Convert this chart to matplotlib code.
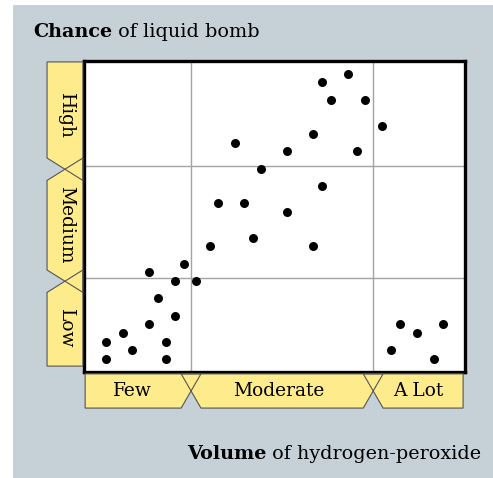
import matplotlib
matplotlib.use('Agg')
import matplotlib.pyplot as plt
from matplotlib.patches import Polygon, Rectangle
from matplotlib.transforms import blended_transform_factory

# ---- data ----
volume = [5.7, 5.7, 10.2, 12.5, 17.1, 17.1, 19.3, 21.6, 21.6, 23.9, 23.9, 26.2,
          29.3, 33.0, 35.3, 39.7, 42.0, 44.3, 46.5, 53.4, 53.4, 60.2, 60.2, 62.5,
          62.5, 64.7, 69.3, 71.6, 73.8, 78.3, 80.6, 82.9, 87.4, 91.9, 94.2]
chance = [4.2, 9.7, 12.5, 7.1, 15.3, 32.1, 23.7, 9.7, 4.2, 18.1, 29.3, 34.8,
          29.3, 40.4, 54.2, 73.7, 54.2, 43.2, 65.4, 71.0, 51.4, 76.5, 40.4, 93.1,
          59.8, 87.6, 95.9, 71.0, 87.6, 79.2, 7.1, 15.3, 12.5, 4.2, 15.3]

x_categories = ['Few', 'Moderate', 'A Lot']
x_edges = [0, 28.1, 75.9, 100]
y_categories = ['Low', 'Medium', 'High']
y_edges = [0, 30.2, 66.2, 100]

BG = '#c5d0d7'
TAB = '#fdeb8c'
TAB_EDGE = '#555555'
SERIF = 'DejaVu Serif'
FS_TAB = 13.4
FS_TITLE = 13.8

W, H = 493, 478
fig = plt.figure(figsize=(W / 100, H / 100), dpi=100)
fig.patch.set_facecolor('white')
fig.add_artist(Rectangle((13 / W, 0), 1 - 13 / W, 1 - 5 / H, transform=fig.transFigure,
                         facecolor=BG, edgecolor='none', zorder=-10))

ax = fig.add_axes([84 / W, (H - 372) / H, 381 / W, 311 / H])
ax.set_xlim(0, 100)
ax.set_ylim(0, 100)
ax.set_facecolor('white')
ax.set_xticks(x_edges[1:-1])
ax.set_yticks(y_edges[1:-1])
ax.tick_params(length=0, labelbottom=False, labelleft=False)
ax.grid(True, color='#a3a3a3', linewidth=1.0)
ax.set_axisbelow(True)
for sp in ax.spines.values():
    sp.set_linewidth(2.4)
    sp.set_color('black')

ax.scatter(volume, chance, s=42, color='black', zorder=3, linewidths=0)


def add_tab(pts, trans):
    # fill first, outline on top so that crossing edges stay visible
    ax.add_patch(Polygon(pts, closed=True, transform=trans, facecolor=TAB,
                         edgecolor='none', clip_on=False, zorder=5))
    ax.add_patch(Polygon(pts, closed=True, transform=trans, facecolor='none',
                         edgecolor=TAB_EDGE, linewidth=0.8, clip_on=False, zorder=5.5))


# ---- bottom category tabs (trapezoids whose slanted edges cross) ----
tb = blended_transform_factory(ax.transData, ax.transAxes)
top, bot = -0.006, -0.116
mid = (top + bot) / 2
d = 2.6
n = len(x_categories)
for i, lab in enumerate(x_categories):
    a, b = x_edges[i], x_edges[i + 1]
    if i == 0:
        a = a + 0.3
    if i == n - 1:
        b = b - 0.5
    if i == 0:
        left = [(a, bot), (a, top)]
    else:
        left = [(a + d, bot), (a - d, top)]
    if i == n - 1:
        right = [(b, top), (b, bot)]
    else:
        right = [(b + d, top), (b - d, bot)]
    add_tab(left + right, tb)
    cx = (a + b) / 2 - (1.5 if i == 0 else 1.0 if i == 1 else 0)
    ax.text(cx, mid, lab, transform=tb, ha='center', va='center',
            family=SERIF, fontsize=FS_TAB, zorder=6, clip_on=False)

# ---- left category tabs ----
tl = blended_transform_factory(ax.transAxes, ax.transData)
xl, xr = -0.097, -0.003
xm = (xl + xr) / 2
dy = 3.6
m = len(y_categories)
for j, lab in enumerate(y_categories):
    a, b = y_edges[j], y_edges[j + 1]
    if j > 0:
        a = a - 1.0
    if j == 0:
        a = a + 1.9
    if j == m - 1:
        b = b - 0.3
    else:
        b = b - 1.0
    if j == 0:
        lower = [(xl, a), (xr, a)]
    else:
        lower = [(xl, a + dy), (xr, a - dy)]
    if j == m - 1:
        upper = [(xr, b), (xl, b)]
    else:
        upper = [(xr, b + dy), (xl, b - dy)]
    add_tab(lower + upper, tl)
    cy = (a + b) / 2 - (1.5 if j == 0 else 0)
    ax.text(xm + 0.004, cy, lab, transform=tl, ha='center', va='center',
            rotation=-90, family=SERIF, fontsize=FS_TAB, zorder=6, clip_on=False)

# ---- titles ----
t1 = fig.text(33 / W, 1 - 37 / H, 'Chance', family=SERIF, fontsize=FS_TITLE,
              fontweight='bold', va='baseline', ha='left')
ax.annotate(' of liquid bomb', xy=(1, 0), xycoords=t1, va='bottom', ha='left',
            family=SERIF, fontsize=FS_TITLE, annotation_clip=False)

t2 = fig.text(187 / W, 1 - 459 / H, 'Volume', family=SERIF, fontsize=FS_TITLE,
              fontweight='bold', va='baseline', ha='left')
ax.annotate(' of hydrogen-peroxide', xy=(1, 0), xycoords=t2, va='bottom', ha='left',
            family=SERIF, fontsize=FS_TITLE, annotation_clip=False)

fig.savefig('out.png', dpi=100)
